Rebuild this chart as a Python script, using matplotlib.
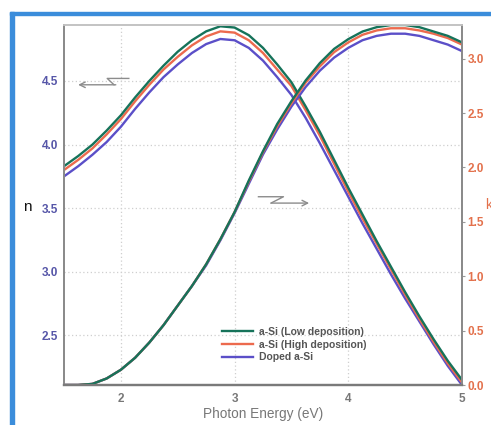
import matplotlib
matplotlib.use('Agg')
import matplotlib.pyplot as plt
from matplotlib.patches import Rectangle

# photon energy grid (eV)
energy = [1.5, 1.625, 1.75, 1.875, 2.0, 2.125, 2.25, 2.375, 2.5, 2.625,
          2.75, 2.875, 3.0, 3.125, 3.25, 3.375, 3.5, 3.625, 3.75, 3.875,
          4.0, 4.125, 4.25, 4.375, 4.5, 4.625, 4.75, 4.875, 5.0]

# refractive index n
n_low = [3.83, 3.91, 4.00, 4.11, 4.23, 4.37, 4.50, 4.62, 4.73, 4.82,
         4.89, 4.93, 4.92, 4.86, 4.76, 4.63, 4.49, 4.30, 4.10, 3.88,
         3.66, 3.45, 3.24, 3.04, 2.84, 2.65, 2.47, 2.30, 2.15]
n_high = [3.80, 3.88, 3.97, 4.08, 4.20, 4.34, 4.47, 4.59, 4.69, 4.78,
          4.85, 4.89, 4.88, 4.82, 4.72, 4.59, 4.46, 4.27, 4.07, 3.85,
          3.63, 3.42, 3.22, 3.02, 2.82, 2.63, 2.45, 2.28, 2.13]
n_doped = [3.75, 3.83, 3.92, 4.02, 4.14, 4.28, 4.41, 4.53, 4.63, 4.72,
           4.79, 4.83, 4.82, 4.76, 4.66, 4.53, 4.39, 4.21, 4.01, 3.80,
           3.59, 3.38, 3.18, 2.98, 2.79, 2.61, 2.43, 2.26, 2.11]

# extinction coefficient k
k_low = [0.00, 0.00, 0.01, 0.06, 0.14, 0.25, 0.39, 0.55, 0.73, 0.91,
         1.11, 1.34, 1.59, 1.88, 2.15, 2.40, 2.61, 2.80, 2.96, 3.09,
         3.18, 3.25, 3.29, 3.31, 3.31, 3.29, 3.25, 3.21, 3.15]
k_high = [0.00, 0.00, 0.01, 0.06, 0.14, 0.25, 0.39, 0.55, 0.73, 0.91,
          1.11, 1.34, 1.59, 1.87, 2.14, 2.38, 2.59, 2.78, 2.93, 3.06,
          3.15, 3.22, 3.26, 3.28, 3.28, 3.26, 3.23, 3.19, 3.13]
k_doped = [0.00, 0.00, 0.01, 0.06, 0.14, 0.25, 0.39, 0.55, 0.73, 0.91,
           1.10, 1.33, 1.58, 1.85, 2.12, 2.35, 2.56, 2.74, 2.89, 3.01,
           3.10, 3.17, 3.21, 3.23, 3.23, 3.21, 3.17, 3.13, 3.07]

labels = ['a-Si (Low deposition)', 'a-Si (High deposition)', 'Doped a-Si']
colors = ['#16735a', '#ec6a4e', '#5b4fc8']

n_ticks = [2.5, 3.0, 3.5, 4.0, 4.5]
k_ticks = [0.0, 0.5, 1.0, 1.5, 2.0, 2.5, 3.0]
x_ticks = [2, 3, 4, 5]

plt.rcParams['font.family'] = ['Liberation Sans', 'DejaVu Sans']

fig = plt.figure(figsize=(4.91, 4.25), dpi=100)
ax = fig.add_axes([64/491, 1 - 385/425, 398/491, 360/425])
ax2 = ax.twinx()

# blue frame around the picture (left and top edges visible)
fig.patches.append(Rectangle((10/491, 0), 4/491, 1 - 12/425, transform=fig.transFigure,
                             color='#3b8ddb', zorder=0))
fig.patches.append(Rectangle((10/491, 1 - 15/425), 1, 3/425, transform=fig.transFigure,
                             color='#3b8ddb', zorder=0))

n_series = [n_low, n_high, n_doped]
k_series = [k_low, k_high, k_doped]
handles = [None, None, None]
for i in [2, 1, 0]:
    handles[i], = ax.plot(energy, n_series[i], color=colors[i], lw=1.7,
                          solid_joinstyle='round', label=labels[i])
    ax2.plot(energy, k_series[i], color=colors[i], lw=1.7, solid_joinstyle='round')

ax.set_xlim(1.5, 5.0)
ax.set_ylim(2.11, 4.94)
ax2.set_ylim(0, 3.31)

ax.set_xticks(x_ticks)
ax.set_yticks(n_ticks)
ax2.set_yticks(k_ticks)
ax.set_yticklabels(['%.1f' % v for v in n_ticks])
ax2.set_yticklabels(['%.1f' % v for v in k_ticks])

ax.grid(True, color='#cfcfcf', linestyle=(0, (1, 2)), lw=0.9)
ax.tick_params(axis='y', length=0, pad=4, labelsize=8.5, labelcolor='#5656a8')
ax.tick_params(axis='x', length=0, pad=6, labelsize=8.5, labelcolor='#777777')
ax2.tick_params(axis='y', length=2, direction='out', pad=2, labelsize=8.5,
                labelcolor='#e3714c', color='#999999')
for t in ax.get_yticklabels() + ax.get_xticklabels() + ax2.get_yticklabels():
    t.set_fontweight('bold')

for a in (ax, ax2):
    a.spines['left'].set_color('#8a8a8a')
    a.spines['bottom'].set_color('#7a7a7a')
    a.spines['right'].set_color('#8a8a8a')
    a.spines['top'].set_color('#c4c4c4')
    a.spines['left'].set_linewidth(1.3)
    a.spines['bottom'].set_linewidth(1.6)
    a.spines['right'].set_linewidth(1.3)
    a.spines['top'].set_linewidth(1.3)

ax.set_xlabel('Photon Energy (eV)', fontsize=9.8, color='#777777', labelpad=1)
fig.text(27/491, 1 - 207/425, 'n', fontsize=11, color='#111111', ha='center', va='center')
fig.text(485/491, 1 - 205/425, 'k', fontsize=10, color='#e3714c', ha='left', va='center')

# zigzag arrows pointing to the axis each family belongs to
ax.plot([2.07, 1.88, 1.94], [4.52, 4.52, 4.47], color='#8c8c8c', lw=1.0)
ax.annotate('', xy=(1.6, 4.47), xytext=(1.98, 4.47),
            arrowprops=dict(arrowstyle='->', color='#8c8c8c', lw=1.0))
ax.plot([3.21, 3.43, 3.32], [3.59, 3.59, 3.54], color='#8c8c8c', lw=1.0)
ax.annotate('', xy=(3.68, 3.54), xytext=(3.30, 3.54),
            arrowprops=dict(arrowstyle='->', color='#8c8c8c', lw=1.0))

leg = ax.legend(handles=handles, loc='upper left', bbox_to_anchor=(0.397, 0.161),
                frameon=False, fontsize=7.5, handlelength=3.0, handletextpad=0.55,
                labelspacing=0.25, borderpad=0, borderaxespad=0)
for t in leg.get_texts():
    t.set_color('#555555')
    t.set_fontweight('bold')

fig.savefig('out.png', dpi=100)
